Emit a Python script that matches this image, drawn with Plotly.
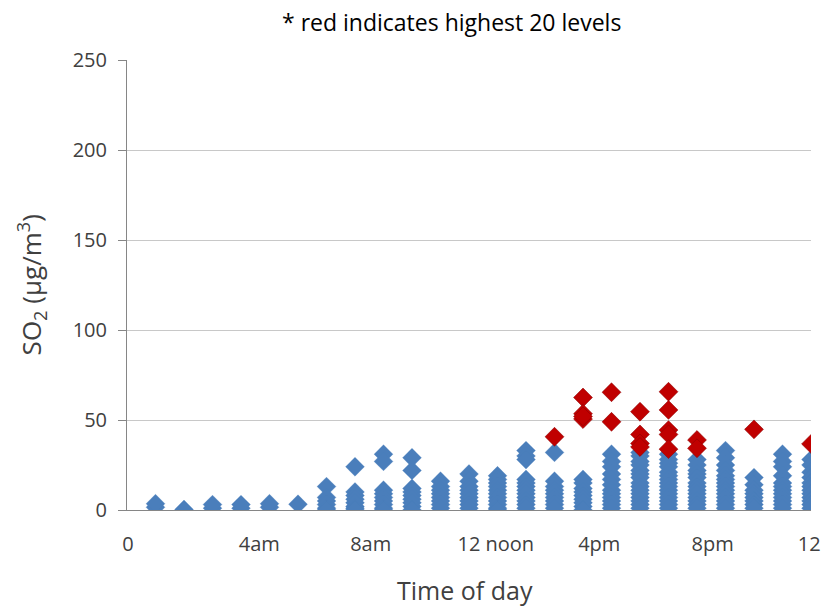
import plotly.graph_objects as go

# Hours of day (x) for each column of measurements
hours = list(range(1, 25))

# Blue measurements per hour (SO2, µg/m3)
blue_values = [
    [1.5, 3.5],                                              # 1
    [0.3],                                                   # 2
    [1, 3],                                                  # 3
    [1, 3],                                                  # 4
    [1.5, 3.5],                                              # 5
    [3.2],                                                   # 6
    [13, 7, 5, 3, 1, 0],                                     # 7
    [24, 10, 8, 6, 4, 2, 1, 0],                              # 8
    [31, 27, 11, 9, 7, 5, 3, 1, 0],                          # 9
    [29, 22, 12, 10, 8, 6, 4, 2, 0],                         # 10
    [16, 13, 11, 9, 7, 5, 3, 1],                             # 11
    [20, 16, 13, 11, 9, 7, 5, 3, 1],                         # 12
    [19, 17, 15, 13, 11, 9, 7, 5, 3, 1, 0],                  # 13
    [33, 30, 28, 17, 15, 13, 11, 9, 7, 5, 3, 1],             # 14
    [32, 16, 13, 11, 9, 7, 5, 3, 1],                         # 15
    [17, 15, 12, 10, 8, 6, 4, 2, 0],                         # 16
    [31, 27, 24, 20, 17, 14, 11, 9, 7, 5, 3, 1],             # 17
    [32, 30, 27, 25, 22, 20, 18, 15, 13, 11, 9, 7, 5, 3, 1], # 18
    [31, 28, 26, 24, 21, 19, 17, 15, 13, 11, 9, 7, 5, 3, 1], # 19
    [28, 25, 22, 20, 18, 15, 13, 11, 9, 7, 5, 3, 1],         # 20
    [33, 29, 25, 22, 19, 17, 15, 13, 11, 9, 7, 5, 3, 1],     # 21
    [18, 14, 11, 9, 7, 5, 3, 1],                             # 22
    [31, 27, 24, 19, 15, 13, 11, 9, 7, 5, 3, 1],             # 23
    [28, 25, 21, 18, 15, 13, 11, 9, 7, 5, 3, 1],             # 24
]

# Highest 20 levels (red)
red_hours = [15, 16, 16, 16, 17, 17, 18, 18, 18, 18, 19, 19, 19, 19, 19, 20, 20, 22, 24, 16]
red_values = [40.7, 62.5, 53.5, 50.5, 65.4, 49, 54.6, 42, 37, 35,
              65.7, 55.6, 44.4, 42, 33.8, 38.9, 34.3, 44.8, 36.7, 52]

# Axis tick labels
y_ticks = [0, 50, 100, 150, 200, 250]
x_tick_pos = [0.03, 4.64, 8.55, 12.94, 16.57, 20.55, 23.94]
x_tick_text = ["0", "4am", "8am", "12 noon", "4pm", "8pm", "12"]

bx, by = [], []
for h, vals in zip(hours, blue_values):
    bx.extend([h] * len(vals))
    by.extend(vals)

FONT = "Open Sans"
BLUE = "#4a7ebb"
RED = "#c00000"

fig = go.Figure()
fig.add_trace(go.Scatter(
    x=bx, y=by, mode="markers",
    marker=dict(symbol="diamond", size=14.5, color=BLUE,
                line=dict(width=0.5, color="rgba(74,126,187,0.6)")),
    showlegend=False, hoverinfo="x+y"))
fig.add_trace(go.Scatter(
    x=red_hours, y=red_values, mode="markers",
    marker=dict(symbol="diamond", size=14.5, color=RED,
                line=dict(width=1, color="rgba(140,0,0,0.55)")),
    showlegend=False, hoverinfo="x+y"))

fig.update_layout(
    width=832, height=607,
    margin=dict(l=127, r=11, t=60, b=97),
    paper_bgcolor="white", plot_bgcolor="white",
    font=dict(family=FONT, color="#404040"),
    xaxis=dict(range=[0, 24], tickmode="array", tickvals=x_tick_pos, ticktext=x_tick_text,
               showgrid=False, zeroline=False, showline=True, linecolor="#868686",
               linewidth=1, ticks="", tickfont=dict(size=20, color="#404040"),
               ticklabelstandoff=16),
    yaxis=dict(range=[0, 250], tickmode="array", tickvals=y_ticks,
               showgrid=True, gridcolor="#c8c8c8", gridwidth=1, zeroline=False,
               showline=True, linecolor="#868686", linewidth=1,
               ticks="outside", ticklen=8, tickcolor="#868686",
               tickfont=dict(size=20, color="#404040"), ticklabelstandoff=7),
    annotations=[
        dict(text="* red indicates highest 20 levels", xref="paper", yref="paper",
             x=0.474, y=1.0844, xanchor="center", yanchor="middle", showarrow=False,
             font=dict(size=23, color="#000000", family=FONT)),
        dict(text="Time of day", xref="paper", yref="paper",
             x=0.4935, y=-0.1778, xanchor="center", yanchor="middle", showarrow=False,
             font=dict(size=25, color="#404040", family=FONT)),
        dict(text="SO<sub>2</sub> (µg/m<sup>3</sup>)", xref="paper", yref="paper",
             x=-0.1398, y=0.5, xanchor="center", yanchor="middle", showarrow=False,
             textangle=-90, font=dict(size=26, color="#404040", family=FONT)),
    ],
)

fig.write_html("out.html")
